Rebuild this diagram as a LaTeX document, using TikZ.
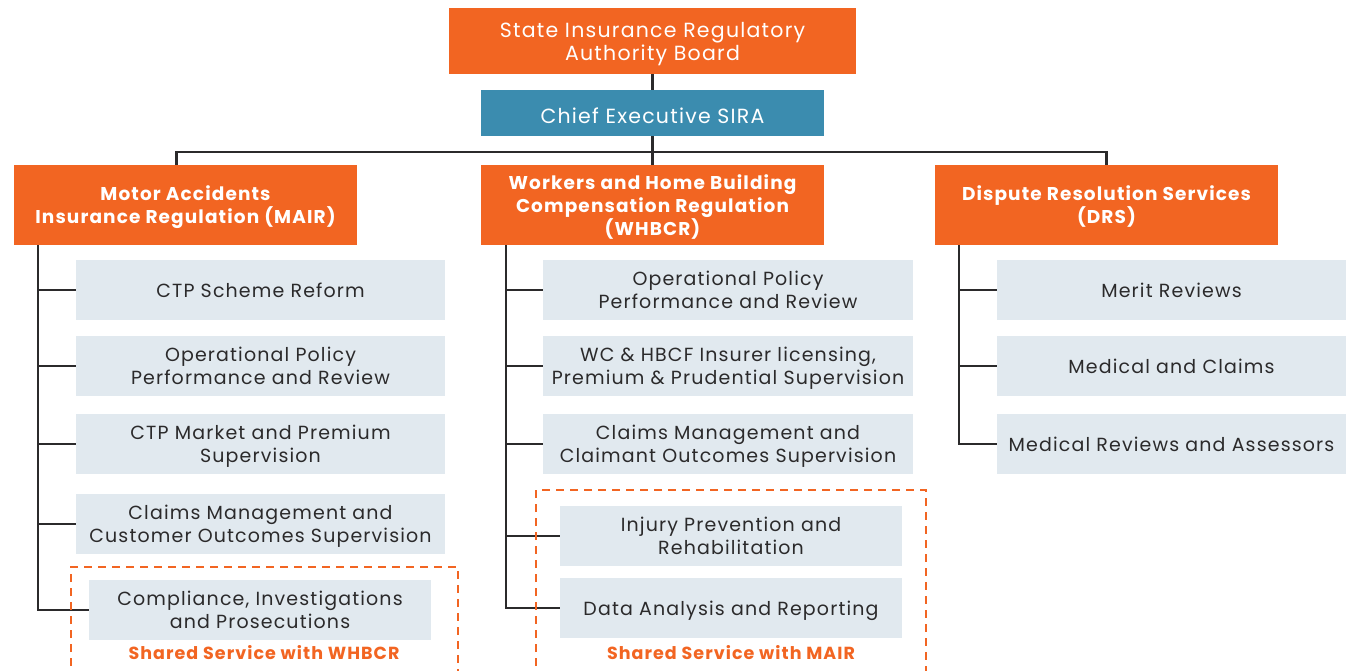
\documentclass[tikz,border=0pt]{standalone}
\usepackage{fontspec}
\setmainfont{Poppins}[LetterSpace=6]
\usetikzlibrary{positioning}
\definecolor{siraorange}{HTML}{F26522}
\definecolor{sirablue}{HTML}{3B8CAF}
\definecolor{unitgrey}{HTML}{E1E9EF}
\definecolor{inkgrey}{HTML}{2B2A2B}

\begin{document}
\begin{tikzpicture}[x=1pt,y=-1pt,
  head/.style={fill=siraorange,text=white,align=center,inner sep=0pt,text depth=0pt,execute at begin node=\rule{0pt}{18.5pt},font=\fontsize{18.5}{23}\selectfont\bfseries,minimum width=343pt,minimum height=80pt},
  unit/.style={fill=unitgrey,text=inkgrey,align=center,inner sep=0pt,text depth=0pt,font=\fontsize{19}{23}\selectfont,minimum height=60pt},
  link/.style={draw=inkgrey,line width=2.4pt},
  shared/.style={draw=siraorange,line width=2pt,dash pattern=on 8pt off 6pt},
  sharedtext/.style={text=siraorange,font=\fontsize{17.5}{20}\selectfont\bfseries}]
\useasboundingbox (0,0) rectangle (1352,670);

\node[fill=siraorange,text=white,align=center,inner sep=0pt,text depth=0pt,execute at begin node=\rule{0pt}{19.5pt},font=\fontsize{20.5}{23}\selectfont,minimum width=407pt,minimum height=66pt] (board) at (652.5,41) {State Insurance Regulatory\\Authority Board};
\node[fill=sirablue,text=white,inner sep=0pt,text height=20pt,text depth=0pt,font=\fontsize{20.5}{23}\selectfont,minimum width=343pt,minimum height=46pt] (ceo) at (652.5,113) {Chief Executive SIRA};
\coordinate (hub) at (652.5,152);

\node[head] (mair) at (185.5,205) {Motor Accidents\\Insurance Regulation (MAIR)};
\node[head] (whbcr) at (652.5,205) {Workers and Home Building\\Compensation Regulation\\(WHBCR)};
\node[head] (drs) at (1106.5,205) {Dispute Resolution Services\\(DRS)};

\node[unit,minimum width=369pt] (m1) at (260.5,290) {CTP Scheme Reform};
\node[unit,minimum width=369pt] (m2) at (260.5,366) {Operational Policy\\Performance and Review};
\node[unit,minimum width=369pt] (m3) at (260.5,444) {CTP Market and Premium\\Supervision};
\node[unit,minimum width=369pt] (m4) at (260.5,524) {Claims Management and\\Customer Outcomes Supervision};
\node[unit,minimum width=342pt] (m5) at (260,610) {Compliance, Investigations\\and Prosecutions};

\node[unit,minimum width=370pt] (w1) at (728,290) {Operational Policy\\Performance and Review};
\node[unit,minimum width=370pt] (w2) at (728,366) {WC \& HBCF Insurer licensing,\\Premium \& Prudential Supervision};
\node[unit,minimum width=370pt] (w3) at (728,444) {Claims Management and\\Claimant Outcomes Supervision};
\node[unit,minimum width=342pt] (w4) at (731,536) {Injury Prevention and\\Rehabilitation};
\node[unit,minimum width=342pt] (w5) at (731,608) {Data Analysis and Reporting};

\node[unit,minimum width=349pt] (d1) at (1171.5,290) {Merit Reviews};
\node[unit,minimum width=349pt] (d2) at (1171.5,366) {Medical and Claims};
\node[unit,minimum width=349pt] (d3) at (1171.5,444) {Medical Reviews and Assessors};

\node[sharedtext] (mshared) at (264,653) {Shared Service with WHBCR};
\node[sharedtext] (wshared) at (731,653) {Shared Service with MAIR};

\draw[link] (board) -- (ceo);
\draw[link] (ceo) -- (whbcr);
\coordinate (mtop) at ([xshift=-9pt]mair.north);
\draw[link] (mtop) |- (hub) -| (drs.north);

\coordinate (mtrunk) at ([xshift=24pt]mair.south west);
\coordinate (wtrunk) at ([xshift=25pt]whbcr.south west);
\coordinate (dtrunk) at ([xshift=24pt]drs.south west);
\draw[link] (mtrunk) |- (m5.west);
\draw[link] (wtrunk) |- (w5.west);
\draw[link] (dtrunk) |- (d3.west);
\foreach \u in {m1,m2,m3,m4}
  \draw[link] (\u.west) -- (\u.west -| mtrunk);
\foreach \u in {w1,w2,w3,w4}
  \draw[link] (\u.west) -- (\u.west -| wtrunk);
\foreach \u in {d1,d2}
  \draw[link] (\u.west) -- (\u.west -| dtrunk);

\draw[shared] (71,680) |- (458,567) -- (458,680);
\draw[shared] (536,680) |- (926,490) -- (926,680);
\end{tikzpicture}
\end{document}
